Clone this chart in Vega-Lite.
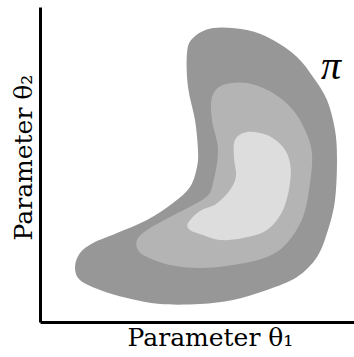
{
  "$schema": "https://vega.github.io/schema/vega-lite/v6.json",
  "width": 314,
  "height": 315,
  "autosize": {"type": "none"},
  "padding": {"left": 40, "top": 7, "right": 0, "bottom": 35},
  "background": "white",
  "config": {"view": {"stroke": null}},
  "datasets": {
    "regions": [
      {"level": "outer", "i": 0, "x": 173, "y": 294},
      {"level": "outer", "i": 1, "x": 207, "y": 292},
      {"level": "outer", "i": 2, "x": 233, "y": 282},
      {"level": "outer", "i": 3, "x": 257, "y": 265},
      {"level": "outer", "i": 4, "x": 273, "y": 245},
      {"level": "outer", "i": 5, "x": 287, "y": 222},
      {"level": "outer", "i": 6, "x": 295, "y": 192},
      {"level": "outer", "i": 7, "x": 297, "y": 162},
      {"level": "outer", "i": 8, "x": 295, "y": 122},
      {"level": "outer", "i": 9, "x": 288, "y": 92},
      {"level": "outer", "i": 10, "x": 277, "y": 65},
      {"level": "outer", "i": 11, "x": 257, "y": 45},
      {"level": "outer", "i": 12, "x": 227, "y": 32},
      {"level": "outer", "i": 13, "x": 193, "y": 22},
      {"level": "outer", "i": 14, "x": 160, "y": 18},
      {"level": "outer", "i": 15, "x": 120, "y": 18},
      {"level": "outer", "i": 16, "x": 87, "y": 24},
      {"level": "outer", "i": 17, "x": 60, "y": 32},
      {"level": "outer", "i": 18, "x": 40, "y": 42},
      {"level": "outer", "i": 19, "x": 35, "y": 55},
      {"level": "outer", "i": 20, "x": 40, "y": 69},
      {"level": "outer", "i": 21, "x": 53, "y": 79},
      {"level": "outer", "i": 22, "x": 77, "y": 89},
      {"level": "outer", "i": 23, "x": 107, "y": 102},
      {"level": "outer", "i": 24, "x": 133, "y": 119},
      {"level": "outer", "i": 25, "x": 150, "y": 135},
      {"level": "outer", "i": 26, "x": 157, "y": 155},
      {"level": "outer", "i": 27, "x": 158, "y": 172},
      {"level": "outer", "i": 28, "x": 155, "y": 202},
      {"level": "outer", "i": 29, "x": 148, "y": 235},
      {"level": "outer", "i": 30, "x": 147, "y": 269},
      {"level": "outer", "i": 31, "x": 153, "y": 284},
      {"level": "middle", "i": 0, "x": 183, "y": 237},
      {"level": "middle", "i": 1, "x": 207, "y": 239},
      {"level": "middle", "i": 2, "x": 233, "y": 229},
      {"level": "middle", "i": 3, "x": 253, "y": 212},
      {"level": "middle", "i": 4, "x": 265, "y": 192},
      {"level": "middle", "i": 5, "x": 272, "y": 169},
      {"level": "middle", "i": 6, "x": 270, "y": 139},
      {"level": "middle", "i": 7, "x": 263, "y": 105},
      {"level": "middle", "i": 8, "x": 247, "y": 79},
      {"level": "middle", "i": 9, "x": 227, "y": 65},
      {"level": "middle", "i": 10, "x": 193, "y": 57},
      {"level": "middle", "i": 11, "x": 160, "y": 54},
      {"level": "middle", "i": 12, "x": 130, "y": 57},
      {"level": "middle", "i": 13, "x": 107, "y": 65},
      {"level": "middle", "i": 14, "x": 98, "y": 72},
      {"level": "middle", "i": 15, "x": 97, "y": 82},
      {"level": "middle", "i": 16, "x": 107, "y": 92},
      {"level": "middle", "i": 17, "x": 130, "y": 105},
      {"level": "middle", "i": 18, "x": 165, "y": 124},
      {"level": "middle", "i": 19, "x": 173, "y": 139},
      {"level": "middle", "i": 20, "x": 178, "y": 172},
      {"level": "middle", "i": 21, "x": 172, "y": 202},
      {"level": "middle", "i": 22, "x": 172, "y": 225},
      {"level": "inner", "i": 0, "x": 207, "y": 190},
      {"level": "inner", "i": 1, "x": 227, "y": 187},
      {"level": "inner", "i": 2, "x": 243, "y": 175},
      {"level": "inner", "i": 3, "x": 250, "y": 159},
      {"level": "inner", "i": 4, "x": 250, "y": 139},
      {"level": "inner", "i": 5, "x": 243, "y": 112},
      {"level": "inner", "i": 6, "x": 227, "y": 92},
      {"level": "inner", "i": 7, "x": 203, "y": 84},
      {"level": "inner", "i": 8, "x": 180, "y": 82},
      {"level": "inner", "i": 9, "x": 163, "y": 87},
      {"level": "inner", "i": 10, "x": 150, "y": 92},
      {"level": "inner", "i": 11, "x": 148, "y": 99},
      {"level": "inner", "i": 12, "x": 160, "y": 111},
      {"level": "inner", "i": 13, "x": 176, "y": 118},
      {"level": "inner", "i": 14, "x": 190, "y": 132},
      {"level": "inner", "i": 15, "x": 196, "y": 146},
      {"level": "inner", "i": 16, "x": 194, "y": 164},
      {"level": "inner", "i": 17, "x": 195, "y": 182}
    ],
    "labels": [
      {"x": 291, "y": 255, "label": "π"}
    ]
  },
  "layer": [
    {
      "data": {"name": "regions"},
      "transform": [{"filter": "datum.level === 'outer'"}],
      "mark": {"type": "line", "filled": true, "interpolate": "cardinal-closed", "color": "#979797", "strokeWidth": 0},
      "encoding": {
        "x": {"field": "x", "type": "quantitative", "scale": {"domain": [0, 314], "nice": false, "zero": false},
              "axis": {"title": "Parameter θ₁", "ticks": false, "labels": false, "grid": false,
                       "domainColor": "black", "domainWidth": 3,
                       "titleFont": "DejaVu Serif", "titleFontSize": 25, "titleFontWeight": "normal",
                       "titleColor": "black", "titlePadding": 3, "titleX": 170}},
        "y": {"field": "y", "type": "quantitative", "scale": {"domain": [0, 315], "nice": false, "zero": false},
              "axis": {"title": "Parameter θ₂", "ticks": false, "labels": false, "grid": false,
                       "domainColor": "black", "domainWidth": 3,
                       "titleFont": "DejaVu Serif", "titleFontSize": 25, "titleFontWeight": "normal",
                       "titleColor": "black", "titlePadding": 4, "titleY": 150}},
        "order": {"field": "i", "type": "quantitative"}
      }
    },
    {
      "data": {"name": "regions"},
      "transform": [{"filter": "datum.level === 'middle'"}],
      "mark": {"type": "line", "filled": true, "interpolate": "cardinal-closed", "color": "#b4b4b4", "strokeWidth": 0},
      "encoding": {
        "x": {"field": "x", "type": "quantitative"},
        "y": {"field": "y", "type": "quantitative"},
        "order": {"field": "i", "type": "quantitative"}
      }
    },
    {
      "data": {"name": "regions"},
      "transform": [{"filter": "datum.level === 'inner'"}],
      "mark": {"type": "line", "filled": true, "interpolate": "cardinal-closed", "color": "#dddddd", "strokeWidth": 0},
      "encoding": {
        "x": {"field": "x", "type": "quantitative"},
        "y": {"field": "y", "type": "quantitative"},
        "order": {"field": "i", "type": "quantitative"}
      }
    },
    {
      "data": {"name": "labels"},
      "mark": {"type": "text", "font": "Liberation Serif", "fontStyle": "italic", "fontSize": 40, "color": "black", "align": "center", "baseline": "middle"},
      "encoding": {
        "x": {"field": "x", "type": "quantitative"},
        "y": {"field": "y", "type": "quantitative"},
        "text": {"field": "label"}
      }
    }
  ]
}
